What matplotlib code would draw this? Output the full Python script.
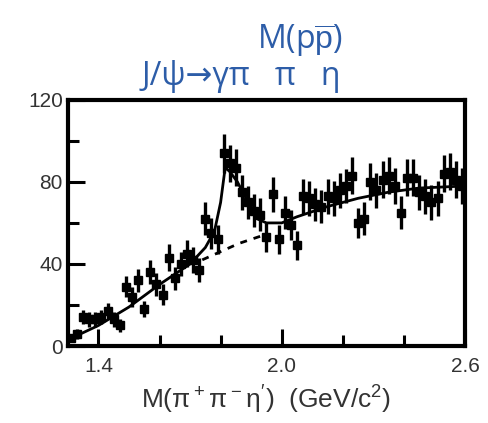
import numpy as np
import matplotlib.pyplot as plt
from matplotlib.ticker import MultipleLocator

plt.rcParams['font.family'] = ['Liberation Sans', 'DejaVu Sans']
plt.rcParams['mathtext.fontset'] = 'custom'
plt.rcParams['mathtext.rm'] = 'Liberation Sans'

# data points (bin centres, counts, errors)
mass = [1.31, 1.33, 1.35, 1.37, 1.39, 1.41, 1.43, 1.45, 1.47, 1.49,
        1.51, 1.53, 1.55, 1.57, 1.59, 1.61, 1.63, 1.65, 1.67, 1.69,
        1.71, 1.73, 1.75, 1.77, 1.79, 1.81, 1.83, 1.85, 1.87, 1.89,
        1.91, 1.93, 1.95, 1.97, 1.99, 2.01, 2.03, 2.05, 2.07, 2.09,
        2.11, 2.13, 2.15, 2.17, 2.19, 2.21, 2.23, 2.25, 2.27, 2.29,
        2.31, 2.33, 2.35, 2.37, 2.39, 2.41, 2.43, 2.45, 2.47, 2.49,
        2.51, 2.53, 2.55, 2.57, 2.59]
counts = [4, 6, 14, 13, 13, 14, 17, 13, 10, 29,
          24, 32, 18, 36, 30, 25, 43, 33, 40, 45,
          42, 37, 62, 55, 52, 94, 89, 87, 75, 70,
          66, 64, 53, 74, 52, 65, 59, 49, 73, 72,
          69, 68, 73, 72, 76, 78, 83, 60, 62, 80,
          76, 81, 83, 78, 65, 82, 82, 75, 73, 70,
          72, 84, 85, 81, 78]
errors = [2, 2.5, 3.5, 3.5, 3.5, 3.5, 4, 3.5, 3, 5,
          5, 5.5, 4, 6, 5.5, 5, 6.5, 5.5, 6, 6.5,
          6.5, 6, 8, 7.5, 7, 9.5, 9, 9, 8.5, 8,
          8, 8, 7, 8.5, 7, 8, 7.5, 7, 8.5, 8.5,
          8, 8, 8.5, 8.5, 8.5, 8.5, 9, 7.5, 8, 9,
          8.5, 9, 9, 9, 8, 9, 9, 8.5, 8.5, 8.5,
          8.5, 9, 9, 9, 9]

# total fit curve
fit_x = [1.30, 1.40, 1.50, 1.60, 1.70, 1.75, 1.78, 1.80, 1.815, 1.83,
         1.855, 1.89, 1.92, 1.95, 2.00, 2.05, 2.15, 2.25, 2.35, 2.45, 2.60]
fit_y = [3, 10, 19, 30, 40, 48, 56, 70, 87, 85,
         80, 70, 62, 60, 60, 63, 68, 72, 75, 77, 78]

# background under the peak
bkg_x = [1.74, 1.80, 1.86, 1.94]
bkg_y = [42, 46, 50, 54]

fig = plt.figure(figsize=(4.88, 4.23), dpi=100)
ax = fig.add_axes([0.139, 0.182, 0.814, 0.582])

ax.errorbar(mass, counts, yerr=errors, fmt='s', color='black',
            markersize=6, elinewidth=2.4, capsize=0)
ax.plot(fit_x, fit_y, color='black', lw=2)
ax.plot(bkg_x, bkg_y, color='black', lw=2, ls=(0, (2.5, 2.5)))

ax.set_xlim(1.3, 2.6)
ax.set_ylim(0, 120)
ax.set_xticks([1.4, 2.0, 2.6])
ax.set_xticklabels(['1.4', '2.0', '2.6'])
ax.xaxis.set_minor_locator(MultipleLocator(0.2))
ax.set_yticks([0, 40, 80, 120])
ax.yaxis.set_minor_locator(MultipleLocator(20))
ax.tick_params(which='both', direction='in', width=2.2, colors='black',
               labelcolor='#333333', labelsize=15, top=False, right=False)
ax.tick_params(which='major', length=12)
ax.tick_params(which='minor', length=8)
ax.tick_params(axis='x', pad=8)
for s in ax.spines.values():
    s.set_linewidth(3)

ax.set_xlabel(r'M($\mathrm{\pi^+\pi^-\eta^{\prime}}$)  (GeV/c$^2$)', fontsize=19,
              color='#333333', labelpad=4)

blue = '#2d5da8'
fig.text(0.615, 0.905, r'M(p$\overline{\mathrm{p}}$)', color=blue,
         fontsize=23, ha='center', va='center', family=['Open Sans', 'DejaVu Sans'])
fig.text(0.495, 0.82, 'J/ψ→γπ   π   η', color=blue,
         fontsize=23, ha='center', va='center', family=['Open Sans', 'DejaVu Sans'])

fig.savefig('out.png', dpi=100)
